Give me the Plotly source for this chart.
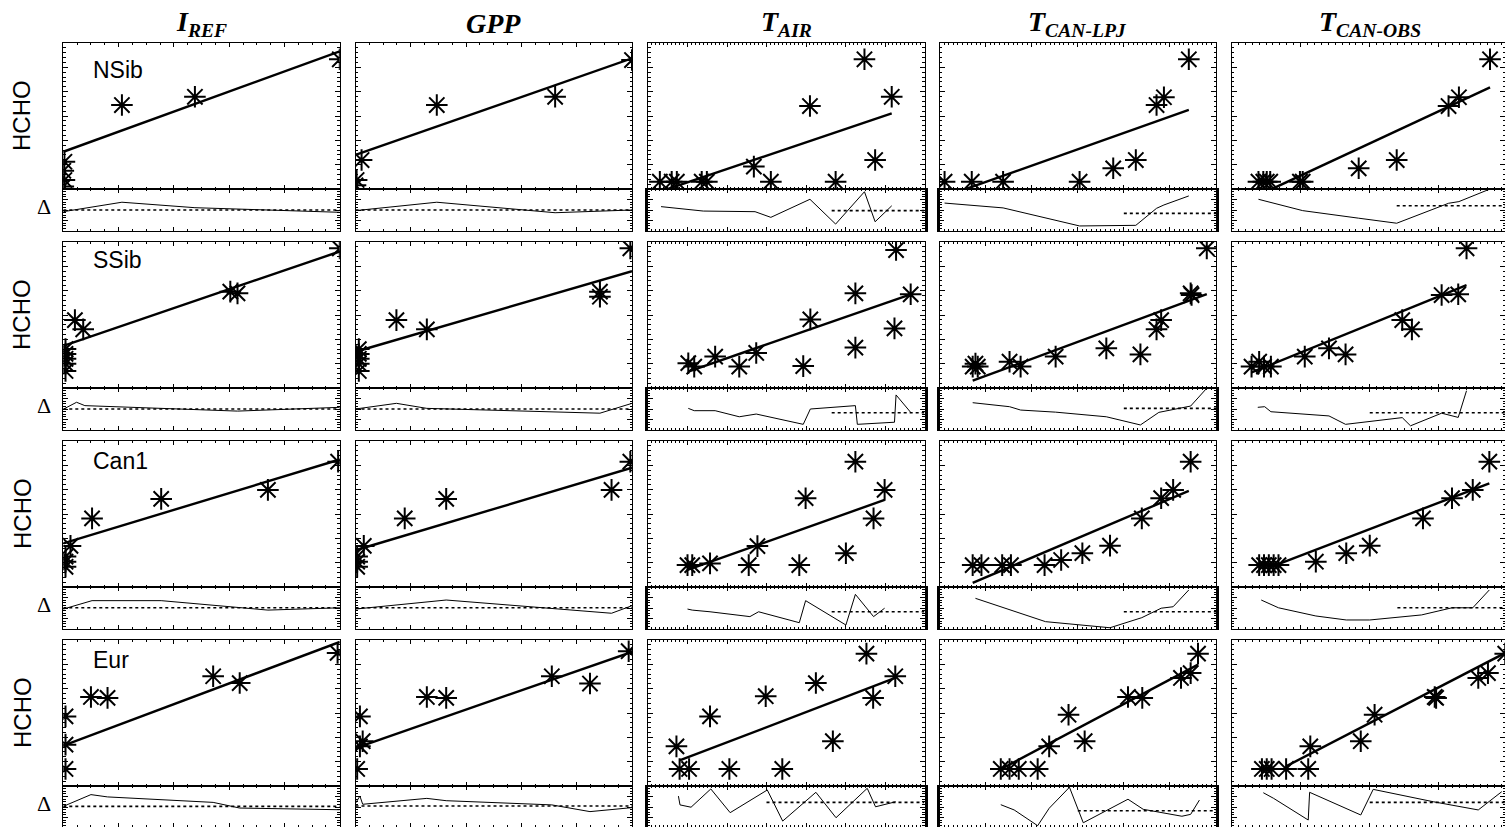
import plotly.graph_objects as go

W, H = 1505, 827

REGIONS = ["NSib", "SSib", "Can1", "Eur"]
COLUMN_KEYS = ["iref", "gpp", "tair", "canlpj", "canobs"]
COLUMN_TITLES = ["I<sub>REF</sub>", "GPP", "T<sub>AIR</sub>",
                 "T<sub>CAN-LPJ</sub>", "T<sub>CAN-OBS</sub>"]
X_MAX = [5, 5, 7, 6, 4]          # driver axis extent (tick units)
HCHO_MAX = 6                     # HCHO axis extent (tick units)

# ---------------- NSib ----------------
nsib_iref_x = [0.0, 0.02, 0.0, 0.02, 1.06, 2.38, 5.0]
nsib_iref_y = [0.1, 0.37, 0.75, 1.12, 3.45, 3.79, 5.33]
nsib_iref_fit_x = [0.0, 5.0]
nsib_iref_fit_y = [1.53, 5.66]
nsib_iref_dx = [0.0, 1.06, 2.38, 5.0]
nsib_iref_dy = [-0.08, 0.37, 0.11, -0.11]
nsib_iref_ref = [0.0, 0.0]

nsib_gpp_x = [0.0, 0.02, 0.11, 1.47, 3.61, 5.0]
nsib_gpp_y = [0.15, 0.37, 1.19, 3.45, 3.79, 5.3]
nsib_gpp_fit_x = [0.0, 5.0]
nsib_gpp_fit_y = [1.40, 5.37]
nsib_gpp_dx = [0.0, 0.11, 1.47, 3.61, 5.0]
nsib_gpp_dy = [-0.03, 0.0, 0.37, -0.13, 0.0]
nsib_gpp_ref = [0.0, 0.0]

nsib_tair_x = [0.30, 0.60, 0.73, 1.36, 1.49, 2.68, 3.11, 4.10, 4.75, 5.48, 5.75, 6.17]
nsib_tair_y = [0.30, 0.30, 0.30, 0.30, 0.30, 0.92, 0.30, 3.41, 0.30, 5.33, 1.19, 3.79]
nsib_tair_fit_x = [0.30, 6.17]
nsib_tair_fit_y = [-0.11, 3.11]
nsib_tair_dx = [0.33, 1.40, 2.71, 3.11, 4.10, 4.75, 5.48, 5.75, 6.17]
nsib_tair_dy = [0.16, -0.05, -0.08, -0.35, 0.51, -0.67, 0.87, -0.56, 0.20]
nsib_tair_ref = [4.65, -0.03]

nsib_canlpj_x = [0.11, 0.70, 1.38, 3.04, 3.77, 4.26, 4.71, 4.87, 5.41]
nsib_canlpj_y = [0.30, 0.30, 0.30, 0.30, 0.85, 1.19, 3.45, 3.77, 5.33]
nsib_canlpj_fit_x = [0.11, 5.41]
nsib_canlpj_fit_y = [-0.31, 3.25]
nsib_canlpj_dx = [0.11, 0.70, 1.38, 3.04, 3.77, 4.26, 4.71, 4.87, 5.41]
nsib_canlpj_dy = [0.33, 0.21, 0.10, -0.76, -0.75, -0.73, 0.08, 0.24, 0.67]
nsib_canlpj_ref = [4.0, -0.16]

nsib_canobs_x = [0.39, 0.46, 0.51, 0.56, 0.99, 1.03, 1.84, 2.39, 3.14, 3.29, 3.74]
nsib_canobs_y = [0.30, 0.30, 0.30, 0.30, 0.30, 0.30, 0.85, 1.19, 3.41, 3.77, 5.33]
nsib_canobs_fit_x = [0.39, 3.74]
nsib_canobs_fit_y = [-0.26, 4.18]
nsib_canobs_dx = [0.39, 1.03, 1.84, 2.39, 3.14, 3.29, 3.74]
nsib_canobs_dy = [0.51, -0.03, -0.39, -0.63, 0.32, 0.40, 1.0]
nsib_canobs_ref = [2.39, 0.2]

# ---------------- SSib ----------------
ssib_iref_x = [0.04, 0.04, 0.04, 0.04, 0.04, 0.21, 0.36, 3.02, 3.15, 5.0]
ssib_iref_y = [0.7, 1.0, 1.2, 1.4, 1.6, 2.79, 2.41, 3.96, 3.89, 5.74]
ssib_iref_fit_x = [0.0, 5.0]
ssib_iref_fit_y = [1.73, 5.61]
ssib_iref_dx = [0.0, 0.24, 0.39, 3.15, 5.0]
ssib_iref_dy = [-0.01, 0.32, 0.16, -0.10, 0.08]
ssib_iref_ref = [0.0, 0.0]

ssib_gpp_x = [0.06, 0.06, 0.06, 0.06, 0.06, 0.74, 1.29, 4.42, 4.42, 4.97]
ssib_gpp_y = [0.7, 1.0, 1.2, 1.4, 1.6, 2.79, 2.41, 3.96, 3.75, 5.74]
ssib_gpp_fit_x = [0.0, 5.0]
ssib_gpp_fit_y = [1.49, 4.80]
ssib_gpp_dx = [0.0, 0.74, 1.29, 4.42, 5.0]
ssib_gpp_dy = [0.0, 0.27, 0.03, -0.2, 0.27]
ssib_gpp_ref = [0.0, 0.0]

ssib_tair_x = [1.02, 1.17, 1.70, 2.31, 2.74, 3.93, 4.11, 5.25, 5.25, 6.24, 6.28, 6.65]
ssib_tair_y = [1.02, 0.88, 1.29, 0.88, 1.44, 0.90, 2.82, 1.66, 3.89, 2.45, 5.67, 3.85]
ssib_tair_fit_x = [1.02, 6.65]
ssib_tair_fit_y = [0.67, 3.85]
ssib_tair_dx = [1.02, 1.17, 1.70, 2.31, 2.74, 3.93, 4.11, 5.25, 5.30, 6.24, 6.28, 6.65]
ssib_tair_dy = [0.03, -0.08, -0.08, -0.37, -0.24, -0.73, 0.0, 0.16, -0.73, -0.63, 0.67, -0.16]
ssib_tair_ref = [4.65, -0.18]

ssib_canlpj_x = [0.72, 0.78, 0.83, 1.52, 1.76, 2.52, 3.62, 4.36, 4.71, 4.81, 5.45, 5.47, 5.80]
ssib_canlpj_y = [0.88, 1.0, 0.88, 1.08, 0.88, 1.29, 1.63, 1.38, 2.41, 2.79, 3.89, 3.82, 5.74]
ssib_canlpj_fit_x = [0.72, 5.80]
ssib_canlpj_fit_y = [0.30, 3.86]
ssib_canlpj_dx = [0.72, 1.52, 1.76, 2.52, 3.62, 4.36, 4.76, 5.45, 5.80]
ssib_canlpj_dy = [0.30, 0.11, -0.05, -0.15, -0.37, -0.76, -0.16, 0.14, 0.99]
ssib_canlpj_ref = [4.0, 0.03]

ssib_canobs_x = [0.29, 0.40, 0.47, 0.57, 1.06, 1.41, 1.65, 2.47, 2.61, 3.04, 3.28, 3.40]
ssib_canobs_y = [0.88, 1.08, 0.88, 0.88, 1.29, 1.63, 1.38, 2.79, 2.41, 3.82, 3.85, 5.74]
ssib_canobs_fit_x = [0.29, 3.40]
ssib_canobs_fit_y = [0.64, 4.23]
ssib_canobs_dx = [0.38, 0.48, 0.57, 1.06, 1.41, 1.65, 2.47, 2.59, 3.04, 3.28, 3.40]
ssib_canobs_dy = [0.08, 0.11, -0.13, -0.25, -0.33, -0.73, -0.41, -0.80, -0.20, -0.40, 0.87]
ssib_canobs_ref = [2.0, -0.18]

# ---------------- Can1 ----------------
can1_iref_x = [0.04, 0.04, 0.04, 0.13, 0.52, 1.77, 3.70, 4.97]
can1_iref_y = [0.83, 1.04, 1.25, 1.69, 2.82, 3.62, 3.99, 5.15]
can1_iref_fit_x = [0.0, 5.0]
can1_iref_fit_y = [1.79, 5.24]
can1_iref_dx = [0.0, 0.52, 1.77, 3.70, 5.0]
can1_iref_dy = [-0.05, 0.35, 0.35, -0.10, 0.01]
can1_iref_ref = [0.0, 0.01]

can1_gpp_x = [0.03, 0.03, 0.03, 0.15, 0.89, 1.64, 4.63, 4.97]
can1_gpp_y = [0.83, 1.04, 1.25, 1.69, 2.82, 3.62, 3.99, 5.15]
can1_gpp_fit_x = [0.0, 5.0]
can1_gpp_fit_y = [1.51, 4.90]
can1_gpp_dx = [0.0, 0.89, 1.64, 4.63, 5.0]
can1_gpp_dy = [-0.05, 0.18, 0.38, -0.25, 0.11]
can1_gpp_ref = [0.0, 0.01]

can1_tair_x = [1.00, 1.12, 1.57, 2.55, 2.77, 3.83, 3.99, 5.01, 5.25, 5.71, 5.99]
can1_tair_y = [0.90, 0.90, 0.97, 0.90, 1.68, 0.90, 3.65, 1.39, 5.15, 2.82, 3.99]
can1_tair_fit_x = [1.00, 5.99]
can1_tair_fit_y = [0.70, 3.58]
can1_tair_dx = [1.00, 1.12, 1.57, 2.58, 2.80, 3.83, 3.99, 5.01, 5.25, 5.71, 5.99]
can1_tair_dy = [-0.05, -0.10, -0.18, -0.41, -0.18, -0.70, 0.35, -0.81, 0.65, -0.41, -0.01]
can1_tair_ref = [4.65, -0.18]

can1_canlpj_x = [0.72, 0.91, 1.36, 1.55, 2.28, 2.64, 3.10, 3.70, 4.39, 4.81, 5.07, 5.45]
can1_canlpj_y = [0.90, 0.90, 0.90, 0.90, 0.90, 1.11, 1.39, 1.70, 2.82, 3.65, 3.99, 5.15]
can1_canlpj_fit_x = [0.72, 5.41]
can1_canlpj_fit_y = [0.17, 3.95]
can1_canlpj_dx = [0.78, 2.30, 3.70, 4.39, 4.81, 5.07, 5.41]
can1_canlpj_dy = [0.46, -0.65, -0.94, -0.46, -0.01, 0.06, 0.86]
can1_canlpj_ref = [4.0, -0.18]

can1_canobs_x = [0.40, 0.47, 0.54, 0.61, 0.68, 1.22, 1.66, 2.00, 2.77, 3.19, 3.49, 3.73]
can1_canobs_y = [0.90, 0.90, 0.90, 0.90, 0.90, 1.04, 1.39, 1.70, 2.82, 3.65, 3.99, 5.15]
can1_canobs_fit_x = [0.64, 3.73]
can1_canobs_fit_y = [0.90, 4.26]
can1_canobs_dx = [0.43, 0.68, 1.22, 1.66, 2.00, 2.75, 3.19, 3.49, 3.73]
can1_canobs_dy = [0.38, 0.01, -0.38, -0.57, -0.57, -0.33, 0.01, 0.01, 0.86]
can1_canobs_ref = [2.4, 0.01]

# ---------------- Eur ----------------
eur_iref_x = [0.04, 0.04, 0.04, 0.50, 0.80, 2.71, 3.19, 4.96]
eur_iref_y = [0.70, 1.70, 2.86, 3.66, 3.62, 4.51, 4.23, 5.47]
eur_iref_fit_x = [0.0, 5.0]
eur_iref_fit_y = [1.66, 5.92]
eur_iref_dx = [0.0, 0.50, 0.80, 2.71, 3.19, 5.0]
eur_iref_dy = [0.03, 0.59, 0.48, 0.22, -0.05, -0.13]
eur_iref_ref = [0.0, 0.03]

eur_gpp_x = [0.03, 0.08, 0.13, 0.08, 1.29, 1.64, 3.55, 4.24, 4.94]
eur_gpp_y = [0.70, 1.63, 1.84, 2.86, 3.66, 3.62, 4.51, 4.21, 5.54]
eur_gpp_fit_x = [0.0, 5.0]
eur_gpp_fit_y = [1.56, 5.51]
eur_gpp_dx = [0.0, 0.08, 0.13, 1.29, 1.64, 3.55, 4.24, 5.0]
eur_gpp_dy = [0.18, 0.52, 0.13, 0.41, 0.30, 0.10, -0.22, -0.03]
eur_gpp_ref = [0.0, 0.05]

eur_tair_x = [0.72, 0.80, 1.04, 1.57, 2.06, 2.98, 3.40, 4.25, 4.68, 5.53, 5.70, 6.26]
eur_tair_y = [1.63, 0.70, 0.70, 2.86, 0.70, 3.69, 0.70, 4.23, 1.84, 5.44, 3.62, 4.51]
eur_tair_fit_x = [0.80, 6.26]
eur_tair_fit_y = [1.05, 4.44]
eur_tair_dx = [0.77, 0.81, 1.09, 1.59, 2.08, 3.02, 3.41, 4.25, 4.76, 5.55, 5.76, 6.27]
eur_tair_dy = [0.52, 0.10, -0.01, 0.86, -0.27, 0.81, -0.67, 0.70, -0.51, 0.89, 0.01, 0.25]
eur_tair_ref = [3.0, 0.22]

eur_canlpj_x = [1.33, 1.52, 1.72, 2.13, 2.38, 2.80, 3.15, 4.09, 4.40, 5.24, 5.45, 5.61]
eur_canlpj_y = [0.70, 0.70, 0.70, 0.70, 1.63, 2.93, 1.84, 3.66, 3.62, 4.44, 4.64, 5.44]
eur_canlpj_fit_x = [1.38, 5.61]
eur_canlpj_fit_y = [0.74, 4.99]
eur_canlpj_dx = [1.33, 1.62, 2.13, 2.38, 2.82, 3.12, 4.09, 4.42, 5.26, 5.45, 5.64]
eur_canlpj_dy = [0.11, -0.14, -0.89, -0.06, 0.94, -0.75, 0.37, -0.11, -0.44, -0.35, 0.33]
eur_canlpj_ref = [3.0, -0.18]

eur_canobs_x = [0.44, 0.51, 0.58, 0.79, 1.11, 1.14, 1.87, 2.07, 2.94, 2.96, 3.57, 3.71, 3.96]
eur_canobs_y = [0.70, 0.70, 0.70, 0.70, 0.70, 1.63, 1.84, 2.93, 3.66, 3.62, 4.44, 4.64, 5.44]
eur_canobs_fit_x = [0.79, 3.96]
eur_canobs_fit_y = [0.81, 5.47]
eur_canobs_dx = [0.46, 0.61, 1.11, 1.13, 1.87, 2.05, 2.92, 3.57, 3.91]
eur_canobs_dy = [0.68, 0.41, -0.62, 0.70, -0.38, 0.84, 0.25, -0.14, 0.73]
eur_canobs_ref = [2.0, 0.22]

# ---------------- layout geometry (pixels) ----------------
COL_LEFT = [63.3, 355.5, 648.0, 939.5, 1231.5]
COL_W = 276.5
ROW_TOP = [43, 242, 441, 640]
LABEL_OFFSET = [27, 18, 20, 20]
MAIN_H = 146
DELTA_H = 42

SERIF = "Liberation Serif, Times New Roman, serif"
SANS = "Liberation Sans, Arial, Helvetica, sans-serif"

G = globals()
fig = go.Figure()
layout_axes = {}
annotations = []


def axis_common():
    return dict(showline=True, linecolor="black", linewidth=1, mirror="ticks",
                ticks="inside", tickcolor="black", tickwidth=1,
                showticklabels=False, showgrid=False, zeroline=False,
                fixedrange=True)


for r, region in enumerate(REGIONS):
    for c, key in enumerate(COLUMN_KEYS):
        pre = f"{region.lower()}_{key}"
        px_ = G[pre + "_x"]
        py_ = G[pre + "_y"]
        fx, fy = G[pre + "_fit_x"], G[pre + "_fit_y"]
        dx, dy = G[pre + "_dx"], G[pre + "_dy"]
        ref_start, ref_level = G[pre + "_ref"]

        idx = r * 5 + c
        nm = 2 * idx + 1
        nd = nm + 1
        left = COL_LEFT[c]
        right = min(left + COL_W, W)
        xmax = X_MAX[c] * (right - left) / COL_W
        top = ROW_TOP[r]
        mb = top + MAIN_H
        db_full = mb + DELTA_H
        db = min(db_full, H)
        dmin = -1 + 2.0 * (db_full - db) / DELTA_H

        xminor = 0.25 if c < 2 else 0.1
        for n, ybot, ytop, yr, ydt, yminor, is_delta in [
            (nm, mb, top, [0, HCHO_MAX], 1, 0.2, False),
            (nd, db, mb, [dmin, 1], 0.5, 0.125, True),
        ]:
            xa = axis_common()
            xa.update(domain=[left / W, right / W], range=[0, xmax], dtick=1, tick0=0,
                      ticklen=4, anchor=("y" if n == 1 else f"y{n}"),
                      minor=dict(ticks="inside", ticklen=2, dtick=xminor, tick0=0,
                                 tickcolor="black", tickwidth=1, showgrid=False))
            ya = axis_common()
            ya.update(domain=[1 - ybot / H, 1 - ytop / H], range=yr, dtick=ydt, tick0=0,
                      ticklen=5, anchor=("x" if n == 1 else f"x{n}"),
                      minor=dict(ticks="inside", ticklen=2.5, dtick=yminor, tick0=0,
                                 tickcolor="black", tickwidth=1, showgrid=False))
            if is_delta and c in (2, 3):
                ya.update(linewidth=2.5)
            layout_axes["xaxis" if n == 1 else f"xaxis{n}"] = xa
            layout_axes["yaxis" if n == 1 else f"yaxis{n}"] = ya

        xm = "x" if nm == 1 else f"x{nm}"
        ym = "y" if nm == 1 else f"y{nm}"
        xd, yd = f"x{nd}", f"y{nd}"

        fig.add_trace(go.Scatter(x=fx, y=fy, mode="lines", xaxis=xm, yaxis=ym,
                                 line=dict(color="black", width=2.4), showlegend=False,
                                 hoverinfo="skip"))
        fig.add_trace(go.Scatter(x=px_, y=py_, mode="markers", xaxis=xm, yaxis=ym,
                                 marker=dict(symbol="asterisk-open", size=18, color="black",
                                             line=dict(color="black", width=2)),
                                 showlegend=False, name=f"{region} {key}"))
        fig.add_trace(go.Scatter(x=[ref_start, xmax], y=[ref_level, ref_level],
                                 mode="lines", xaxis=xd, yaxis=yd,
                                 line=dict(color="black", width=1.6, dash="dot"),
                                 showlegend=False, hoverinfo="skip"))
        fig.add_trace(go.Scatter(x=dx, y=dy, mode="lines", xaxis=xd, yaxis=yd,
                                 line=dict(color="black", width=1),
                                 showlegend=False, name=f"{region} {key} Δ"))

        if c == 0:
            annotations.append(dict(text=region, x=91 / W,
                                    y=1 - (top + LABEL_OFFSET[r]) / H,
                                    xref="paper", yref="paper", xanchor="left",
                                    yanchor="middle", showarrow=False,
                                    font=dict(family=SANS, size=23, color="black")))
            annotations.append(dict(text="HCHO", x=22 / W, y=1 - (top + MAIN_H / 2) / H,
                                    xref="paper", yref="paper", xanchor="center",
                                    yanchor="middle", textangle=-90, showarrow=False,
                                    font=dict(family=SANS, size=24, color="black")))
            annotations.append(dict(text="Δ", x=44 / W, y=1 - (mb + DELTA_H / 2 - 4) / H,
                                    xref="paper", yref="paper", xanchor="center",
                                    yanchor="middle", showarrow=False,
                                    font=dict(family=SERIF, size=22, color="black")))

for c, title in enumerate(COLUMN_TITLES):
    left = COL_LEFT[c]
    annotations.append(dict(text=f"<b><i>{title}</i></b>", x=(left + COL_W / 2) / W,
                            y=1 - 24 / H, xref="paper", yref="paper", xanchor="center",
                            yanchor="middle", showarrow=False,
                            font=dict(family=SERIF, size=28, color="black")))

fig.update_layout(width=W, height=H, margin=dict(l=0, r=0, t=0, b=0),
                  paper_bgcolor="white", plot_bgcolor="white",
                  annotations=annotations, showlegend=False, **layout_axes)

fig.write_html("out.html", config={"displayModeBar": False},
               post_script="document.body.style.margin='0px';")
